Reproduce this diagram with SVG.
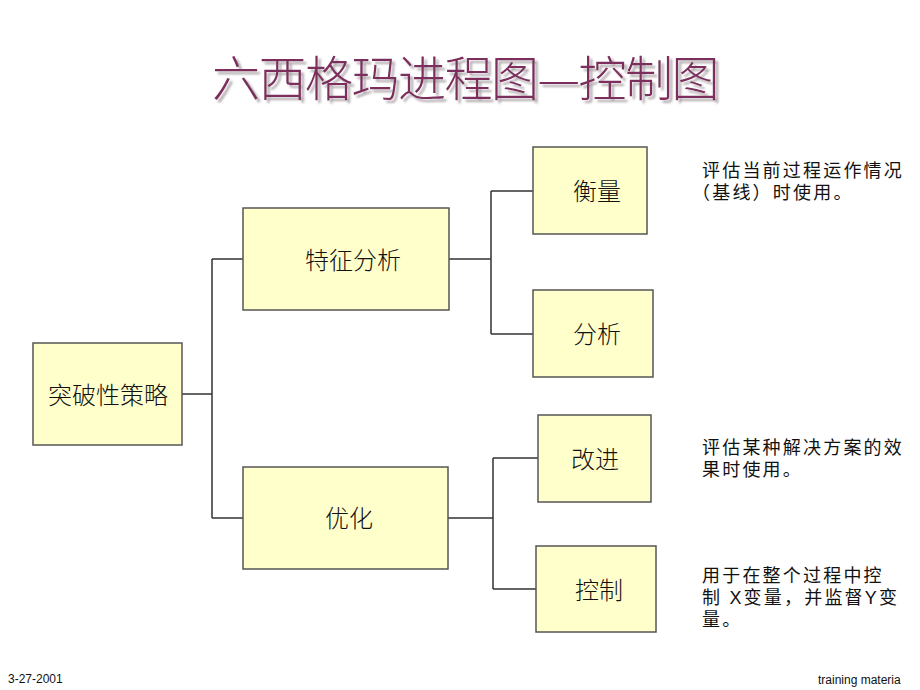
<svg xmlns="http://www.w3.org/2000/svg" width="920" height="690" viewBox="0 0 920 690">
<defs>
<style>
.box{fill:#FFFFCC;stroke:#555;stroke-width:1.5}
.lbl{font-family:"Noto Sans CJK SC","Noto Sans",sans-serif;font-size:24px;font-weight:300;fill:#111;text-anchor:middle}
.side{font-family:"Liberation Sans","Noto Sans CJK SC",sans-serif;font-size:18px;fill:#111;letter-spacing:2.2px}
.foot{font-family:"Liberation Sans",Arial,sans-serif;font-size:12px;fill:#111}
.title{font-family:"Noto Sans CJK SC",sans-serif;font-size:48px;font-weight:300;text-anchor:middle;letter-spacing:-1.5px}
.conn{fill:none;stroke:#333;stroke-width:1.5}
</style>
<filter id="shadow" x="-5%" y="-20%" width="110%" height="150%">
<feDropShadow dx="3" dy="3" stdDeviation="1" flood-color="#9a9096" flood-opacity="0.8"/>
</filter>
</defs>
<rect width="920" height="690" fill="#fff"/>
<g id="title">
<text class="title" x="465" y="96" fill="#7B2D5C" filter="url(#shadow)">六西格玛进程图—控制图</text>
</g>
<g id="connectors">
<path class="conn" d="M182,394 H212 M212,259 V518 M212,259 H243 M212,518 H243"/>
<path class="conn" d="M449,259 H491 M491,191 V334 M491,191 H533 M491,334 H533"/>
<path class="conn" d="M448,518 H493 M493,458 V589 M493,458 H538 M493,589 H536"/>
</g>
<g id="n-root"><rect class="box" x="33" y="343" width="149" height="102"/><text class="lbl" x="108" y="404">突破性策略</text></g>
<g id="n-char"><rect class="box" x="243" y="208" width="206" height="102"/><text class="lbl" x="353" y="269">特征分析</text></g>
<g id="n-opt"><rect class="box" x="243" y="467" width="205" height="102"/><text class="lbl" x="349" y="527">优化</text></g>
<g id="n-measure"><rect class="box" x="533" y="147" width="114" height="87"/><text class="lbl" x="597" y="200">衡量</text></g>
<g id="n-analyze"><rect class="box" x="533" y="290" width="120" height="87"/><text class="lbl" x="597" y="343">分析</text></g>
<g id="n-improve"><rect class="box" x="538" y="415" width="113" height="87"/><text class="lbl" x="595" y="468">改进</text></g>
<g id="n-control"><rect class="box" x="536" y="546" width="120" height="86"/><text class="lbl" x="599" y="599">控制</text></g>
<g id="notes">
<text class="side" x="702" y="177">评估当前过程运作情况</text>
<text class="side" x="692" y="199">（基线）时使用。</text>
<text class="side" x="702" y="454">评估某种解决方案的效</text>
<text class="side" x="702" y="476">果时使用。</text>
<text class="side" x="702" y="582">用于在整个过程中控</text>
<text class="side" x="702" y="604">制 X变量，并监督Y变</text>
<text class="side" x="702" y="626">量。</text>
</g>
<g id="footer">
<text class="foot" x="8" y="683">3-27-2001</text>
<text class="foot" x="818" y="684">training materia</text>
</g>
</svg>
